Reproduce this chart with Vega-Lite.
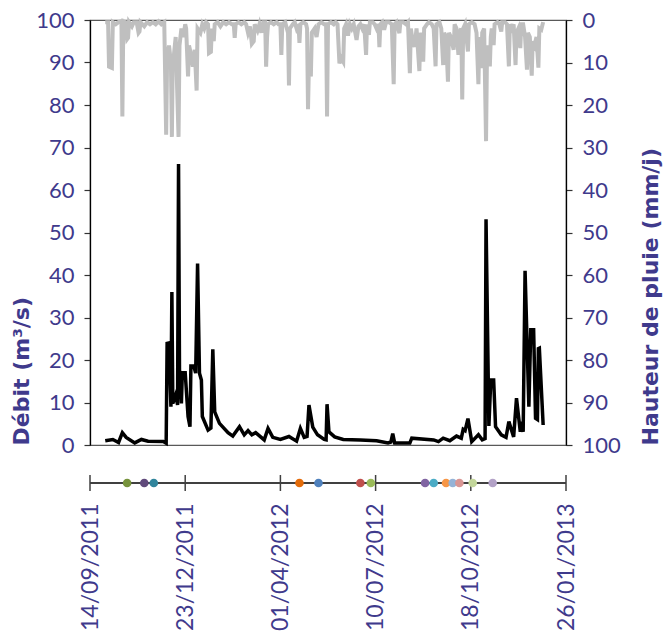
{
  "$schema": "https://vega.github.io/schema/vega-lite/v6.json",
  "padding": {"left": 10, "top": 8, "right": 4, "bottom": 4},
  "bounds": "flush",
  "spacing": 30,
  "config": {"font": "Lato", "view": {"stroke": null}},
  "datasets": {
    "rain": [
      {"d":"2011-09-30","r":0.5},{"d":"2011-10-03","r":0.5},{"d":"2011-10-04","r":11},{"d":"2011-10-07","r":11.3},{"d":"2011-10-08","r":0.5},
      {"d":"2011-10-11","r":1},{"d":"2011-10-14","r":0.5},{"d":"2011-10-17","r":0.3},{"d":"2011-10-18","r":22.7},{"d":"2011-10-19","r":0.3},
      {"d":"2011-10-21","r":0.5},{"d":"2011-10-23","r":4.5},{"d":"2011-10-24","r":4.2},{"d":"2011-10-25","r":0.5},{"d":"2011-10-28","r":1.5},
      {"d":"2011-10-30","r":0.5},{"d":"2011-11-02","r":0.5},{"d":"2011-11-04","r":3},{"d":"2011-11-05","r":2.7},{"d":"2011-11-06","r":0.5},
      {"d":"2011-11-10","r":1.5},{"d":"2011-11-13","r":0.5},{"d":"2011-11-16","r":1},{"d":"2011-11-19","r":0.5},{"d":"2011-11-22","r":1},
      {"d":"2011-11-25","r":0.3},{"d":"2011-11-28","r":1},{"d":"2011-12-01","r":0.5},{"d":"2011-12-03","r":27},{"d":"2011-12-04","r":9},
      {"d":"2011-12-06","r":6},{"d":"2011-12-08","r":10},{"d":"2011-12-09","r":27.5},{"d":"2011-12-10","r":8},{"d":"2011-12-11","r":8.6},
      {"d":"2011-12-13","r":4},{"d":"2011-12-14","r":12},{"d":"2011-12-16","r":27.5},{"d":"2011-12-17","r":6},{"d":"2011-12-19","r":2},
      {"d":"2011-12-21","r":4},{"d":"2011-12-23","r":1},{"d":"2011-12-24","r":2},{"d":"2011-12-26","r":13.3},{"d":"2011-12-27","r":6},
      {"d":"2011-12-29","r":8},{"d":"2011-12-31","r":11},{"d":"2012-01-02","r":7},{"d":"2012-01-04","r":16.6},{"d":"2012-01-05","r":2},
      {"d":"2012-01-08","r":3},{"d":"2012-01-10","r":1},{"d":"2012-01-12","r":2},{"d":"2012-01-14","r":0.5},{"d":"2012-01-16","r":1},
      {"d":"2012-01-17","r":7.8},{"d":"2012-01-19","r":7.5},{"d":"2012-01-20","r":2},{"d":"2012-01-22","r":5},{"d":"2012-01-23","r":1},
      {"d":"2012-01-26","r":0.5},{"d":"2012-01-29","r":1.5},{"d":"2012-02-01","r":0.5},{"d":"2012-02-04","r":1},{"d":"2012-02-07","r":0.5},
      {"d":"2012-02-10","r":1},{"d":"2012-02-12","r":1},{"d":"2012-02-13","r":4.2},{"d":"2012-02-14","r":1},{"d":"2012-02-17","r":0.5},
      {"d":"2012-02-20","r":1},{"d":"2012-02-23","r":0.5},{"d":"2012-02-25","r":1},{"d":"2012-02-27","r":3},{"d":"2012-02-29","r":1.5},
      {"d":"2012-03-02","r":5.6},{"d":"2012-03-04","r":5},{"d":"2012-03-05","r":1},{"d":"2012-03-08","r":2.5},{"d":"2012-03-10","r":1},
      {"d":"2012-03-12","r":3},{"d":"2012-03-14","r":0.5},{"d":"2012-03-16","r":0.5},{"d":"2012-03-17","r":11},{"d":"2012-03-18","r":4},
      {"d":"2012-03-19","r":1},{"d":"2012-03-22","r":0.5},{"d":"2012-03-25","r":1},{"d":"2012-03-28","r":0.5},{"d":"2012-03-30","r":1},
      {"d":"2012-04-01","r":1},{"d":"2012-04-02","r":8.2},{"d":"2012-04-03","r":1},{"d":"2012-04-06","r":0.5},{"d":"2012-04-09","r":3},
      {"d":"2012-04-10","r":15.4},{"d":"2012-04-11","r":2},{"d":"2012-04-14","r":1},{"d":"2012-04-16","r":0.5},{"d":"2012-04-18","r":2},
      {"d":"2012-04-20","r":1},{"d":"2012-04-21","r":5.4},{"d":"2012-04-22","r":1},{"d":"2012-04-25","r":0.5},{"d":"2012-04-28","r":1},
      {"d":"2012-04-29","r":2},{"d":"2012-04-30","r":21},{"d":"2012-05-01","r":10},{"d":"2012-05-03","r":13.3},{"d":"2012-05-04","r":3},
      {"d":"2012-05-07","r":2},{"d":"2012-05-09","r":4},{"d":"2012-05-11","r":1},{"d":"2012-05-14","r":0.5},{"d":"2012-05-17","r":1},
      {"d":"2012-05-19","r":1},{"d":"2012-05-20","r":22.7},{"d":"2012-05-21","r":1},{"d":"2012-05-24","r":0.5},{"d":"2012-05-27","r":1},
      {"d":"2012-05-29","r":0.5},{"d":"2012-05-31","r":1},{"d":"2012-06-02","r":10.2},{"d":"2012-06-04","r":9},{"d":"2012-06-06","r":9.8},
      {"d":"2012-06-07","r":2},{"d":"2012-06-09","r":1},{"d":"2012-06-11","r":3.7},{"d":"2012-06-13","r":1},{"d":"2012-06-15","r":2},
      {"d":"2012-06-17","r":1},{"d":"2012-06-20","r":4.7},{"d":"2012-06-22","r":1.5},{"d":"2012-06-24","r":1},{"d":"2012-06-26","r":2},
      {"d":"2012-06-28","r":1},{"d":"2012-06-30","r":8.2},{"d":"2012-07-01","r":1},{"d":"2012-07-03","r":3.5},{"d":"2012-07-04","r":0.5},
      {"d":"2012-07-07","r":0.5},{"d":"2012-07-09","r":1},{"d":"2012-07-11","r":2},{"d":"2012-07-13","r":1},{"d":"2012-07-14","r":6.4},
      {"d":"2012-07-15","r":1},{"d":"2012-07-17","r":0.5},{"d":"2012-07-19","r":2.3},{"d":"2012-07-21","r":0.5},{"d":"2012-07-24","r":0.5},
      {"d":"2012-07-27","r":1},{"d":"2012-07-29","r":15.1},{"d":"2012-07-30","r":1},{"d":"2012-08-01","r":0.5},{"d":"2012-08-04","r":3.1},
      {"d":"2012-08-05","r":0.5},{"d":"2012-08-08","r":0.5},{"d":"2012-08-11","r":1},{"d":"2012-08-13","r":0.5},{"d":"2012-08-15","r":12.5},
      {"d":"2012-08-16","r":2},{"d":"2012-08-18","r":5},{"d":"2012-08-20","r":6.3},{"d":"2012-08-22","r":2},{"d":"2012-08-25","r":12},
      {"d":"2012-08-26","r":3},{"d":"2012-08-27","r":4},{"d":"2012-08-29","r":9.8},{"d":"2012-08-30","r":2},{"d":"2012-09-02","r":1},
      {"d":"2012-09-04","r":0.5},{"d":"2012-09-07","r":1},{"d":"2012-09-09","r":2},{"d":"2012-09-11","r":10.9},{"d":"2012-09-12","r":1},
      {"d":"2012-09-15","r":0.5},{"d":"2012-09-17","r":2},{"d":"2012-09-19","r":10.6},{"d":"2012-09-20","r":3},{"d":"2012-09-22","r":4},
      {"d":"2012-09-24","r":14.5},{"d":"2012-09-25","r":3},{"d":"2012-09-27","r":4},{"d":"2012-09-30","r":7},{"d":"2012-10-01","r":1},
      {"d":"2012-10-03","r":2},{"d":"2012-10-05","r":8.2},{"d":"2012-10-06","r":3},{"d":"2012-10-08","r":2},{"d":"2012-10-09","r":18.7},
      {"d":"2012-10-10","r":2},{"d":"2012-10-12","r":1},{"d":"2012-10-15","r":7.4},{"d":"2012-10-16","r":1},{"d":"2012-10-19","r":0.5},
      {"d":"2012-10-22","r":1},{"d":"2012-10-24","r":3},{"d":"2012-10-26","r":15.1},{"d":"2012-10-27","r":4},{"d":"2012-10-29","r":11.3},
      {"d":"2012-10-30","r":3},{"d":"2012-11-01","r":2},{"d":"2012-11-03","r":28.5},{"d":"2012-11-04","r":8},{"d":"2012-11-05","r":6},
      {"d":"2012-11-07","r":10.9},{"d":"2012-11-08","r":4},{"d":"2012-11-09","r":2},{"d":"2012-11-11","r":5.9},{"d":"2012-11-12","r":1},
      {"d":"2012-11-15","r":0.5},{"d":"2012-11-17","r":1},{"d":"2012-11-19","r":2.7},{"d":"2012-11-20","r":0.5},{"d":"2012-11-23","r":0.5},
      {"d":"2012-11-25","r":1},{"d":"2012-11-27","r":10.9},{"d":"2012-11-28","r":1},{"d":"2012-11-30","r":2},{"d":"2012-12-02","r":1},
      {"d":"2012-12-04","r":10.6},{"d":"2012-12-05","r":3},{"d":"2012-12-07","r":2},{"d":"2012-12-09","r":6.6},{"d":"2012-12-10","r":1},
      {"d":"2012-12-12","r":1},{"d":"2012-12-14","r":4},{"d":"2012-12-16","r":11.7},{"d":"2012-12-17","r":3},{"d":"2012-12-19","r":4},
      {"d":"2012-12-21","r":13.1},{"d":"2012-12-22","r":5},{"d":"2012-12-24","r":6},{"d":"2012-12-26","r":4},{"d":"2012-12-28","r":11.2},
      {"d":"2012-12-29","r":2},{"d":"2012-12-31","r":2.3},{"d":"2013-01-02","r":0.5}
    ],
    "flow": [
      {"d":"2011-09-30","q":1.0},{"d":"2011-10-08","q":1.3},{"d":"2011-10-14","q":0.6},{"d":"2011-10-18","q":2.9},{"d":"2011-10-22","q":1.8},
      {"d":"2011-10-31","q":0.5},{"d":"2011-11-07","q":1.3},{"d":"2011-11-14","q":0.9},{"d":"2011-11-30","q":0.8},{"d":"2011-12-03","q":0.4},
      {"d":"2011-12-04","q":23.9},{"d":"2011-12-06","q":24},{"d":"2011-12-08","q":9},{"d":"2011-12-09","q":36},{"d":"2011-12-10","q":9.8},
      {"d":"2011-12-13","q":11.8},{"d":"2011-12-15","q":9.4},{"d":"2011-12-16","q":66.1},{"d":"2011-12-17","q":17.6},{"d":"2011-12-19","q":9.8},
      {"d":"2011-12-20","q":17},{"d":"2011-12-23","q":17},{"d":"2011-12-26","q":6.7},{"d":"2011-12-28","q":4.3},{"d":"2011-12-29","q":18.6},
      {"d":"2012-01-01","q":18.6},{"d":"2012-01-03","q":16.9},{"d":"2012-01-05","q":42.7},{"d":"2012-01-07","q":16.9},{"d":"2012-01-09","q":15.3},
      {"d":"2012-01-10","q":6.7},{"d":"2012-01-16","q":3.5},{"d":"2012-01-19","q":4},{"d":"2012-01-21","q":22.5},{"d":"2012-01-23","q":7.8},
      {"d":"2012-01-28","q":5.1},{"d":"2012-02-06","q":2.9},{"d":"2012-02-11","q":2.1},{"d":"2012-02-18","q":4.3},{"d":"2012-02-23","q":2.4},
      {"d":"2012-02-27","q":3.4},{"d":"2012-03-02","q":2.4},{"d":"2012-03-06","q":2.9},{"d":"2012-03-15","q":1.2},{"d":"2012-03-19","q":3.9},
      {"d":"2012-03-24","q":1.8},{"d":"2012-04-01","q":1.3},{"d":"2012-04-10","q":2.0},{"d":"2012-04-18","q":0.9},{"d":"2012-04-22","q":3.9},
      {"d":"2012-04-26","q":1.8},{"d":"2012-04-29","q":2.0},{"d":"2012-05-01","q":9.4},{"d":"2012-05-05","q":4.2},{"d":"2012-05-10","q":2.4},
      {"d":"2012-05-17","q":1.3},{"d":"2012-05-19","q":1.2},{"d":"2012-05-20","q":9.6},{"d":"2012-05-22","q":3.1},{"d":"2012-05-28","q":1.9},
      {"d":"2012-06-06","q":1.3},{"d":"2012-06-24","q":1.2},{"d":"2012-07-11","q":1.0},{"d":"2012-07-23","q":0.5},{"d":"2012-07-26","q":0.7},
      {"d":"2012-07-28","q":2.7},{"d":"2012-07-30","q":0.5},{"d":"2012-08-15","q":0.5},{"d":"2012-08-17","q":1.6},{"d":"2012-09-09","q":1.2},
      {"d":"2012-09-14","q":0.8},{"d":"2012-09-19","q":1.6},{"d":"2012-09-26","q":1.0},{"d":"2012-10-03","q":2.1},{"d":"2012-10-08","q":1.6},
      {"d":"2012-10-10","q":3.7},{"d":"2012-10-12","q":3.4},{"d":"2012-10-15","q":6.2},{"d":"2012-10-19","q":0.8},{"d":"2012-10-26","q":2.4},
      {"d":"2012-10-30","q":1.2},{"d":"2012-11-02","q":1.5},{"d":"2012-11-03","q":53.1},{"d":"2012-11-06","q":4.5},{"d":"2012-11-08","q":15.3},
      {"d":"2012-11-11","q":15.3},{"d":"2012-11-13","q":4.3},{"d":"2012-11-19","q":2.4},{"d":"2012-11-24","q":1.8},{"d":"2012-11-27","q":5.5},
      {"d":"2012-12-02","q":1.9},{"d":"2012-12-05","q":11},{"d":"2012-12-09","q":3.1},{"d":"2012-12-10","q":5.5},{"d":"2012-12-12","q":3.1},
      {"d":"2012-12-14","q":41},{"d":"2012-12-18","q":9},{"d":"2012-12-20","q":27.1},{"d":"2012-12-23","q":27.1},{"d":"2012-12-25","q":6.3},
      {"d":"2012-12-27","q":6.0},{"d":"2012-12-28","q":22.7},{"d":"2012-12-29","q":22.8},{"d":"2013-01-02","q":4.7}
    ],
    "events": [
      {"d":"2011-10-23","e":"E01"},{"d":"2011-11-10","e":"E02"},{"d":"2011-11-20","e":"E03"},{"d":"2012-04-21","e":"E04"},
      {"d":"2012-05-11","e":"E05"},{"d":"2012-06-24","e":"E06"},{"d":"2012-07-05","e":"E07"},{"d":"2012-08-31","e":"E08"},
      {"d":"2012-09-09","e":"E09"},{"d":"2012-09-22","e":"E10"},{"d":"2012-09-29","e":"E11"},{"d":"2012-10-06","e":"E12"},
      {"d":"2012-10-20","e":"E13"},{"d":"2012-11-10","e":"E14"}
    ],
    "marks": [
      {"d":"2011-09-14"},{"d":"2011-12-23"},{"d":"2012-04-01"},{"d":"2012-07-10"},{"d":"2012-10-18"},{"d":"2013-01-26"}
    ]
  },
  "vconcat": [
    {
      "width": 476,
      "height": 425,
      "view": {"stroke": "#595959", "strokeWidth": 1.2},
      "layer": [
        {
          "data": {"name": "rain"},
          "mark": {"type": "line", "color": "#bfbfbf", "strokeWidth": 4},
          "encoding": {
            "x": {"field": "d", "type": "temporal",
                  "scale": {"type": "utc", "domain": [{"year": 2011, "month": 9, "date": 14, "utc": true}, {"year": 2013, "month": 1, "date": 26, "utc": true}]},
                  "axis": null},
            "y": {"field": "r", "type": "quantitative",
                  "scale": {"domain": [100, 0], "nice": false, "zero": false},
                  "axis": {"orient": "right", "values": [0,10,20,30,40,50,60,70,80,90,100], "grid": false,
                           "domainColor": "#000000", "domainWidth": 1.3, "tickColor": "#333333", "tickSize": 6, "tickWidth": 1.2,
                           "labelFont": "Lato", "labelFontSize": 22, "labelColor": "#3f3a8c", "labelPadding": 10,
                           "title": "Hauteur de pluie (mm/j)", "titleFont": "DejaVu Sans", "titleFontSize": 22, "titleFontWeight": "bold",
                           "titleColor": "#3f3a8c", "titleAngle": 270, "titleBaseline": "top", "titleAnchor": "start", "titlePadding": 20}}
          }
        },
        {
          "data": {"name": "flow"},
          "mark": {"type": "line", "color": "#000000", "strokeWidth": 3.5},
          "encoding": {
            "x": {"field": "d", "type": "temporal",
                  "scale": {"type": "utc", "domain": [{"year": 2011, "month": 9, "date": 14, "utc": true}, {"year": 2013, "month": 1, "date": 26, "utc": true}]},
                  "axis": null},
            "y": {"field": "q", "type": "quantitative",
                  "scale": {"domain": [0, 100], "nice": false},
                  "axis": {"orient": "left", "values": [0,10,20,30,40,50,60,70,80,90,100], "grid": false,
                           "domainColor": "#000000", "domainWidth": 1.3, "tickColor": "#333333", "tickSize": 6, "tickWidth": 1.2,
                           "labelFont": "Lato", "labelFontSize": 22, "labelColor": "#3f3a8c", "labelPadding": 10,
                           "title": "Débit (m³/s)", "titleFont": "DejaVu Sans", "titleFontSize": 22, "titleFontWeight": "bold",
                           "titleColor": "#3f3a8c", "titleAnchor": "start", "titlePadding": 2}}
          }
        }
      ],
      "resolve": {"scale": {"y": "independent"}, "axis": {"y": "independent"}}
    },
    {
      "width": 476,
      "height": 16,
      "layer": [
        {
          "data": {"name": "marks"},
          "mark": {"type": "rule", "color": "#404040", "strokeWidth": 1.4},
          "encoding": {
            "y": {"datum": 0, "type": "quantitative", "scale": {"domain": [-1, 1]}, "axis": null}
          }
        },
        {
          "data": {"name": "marks"},
          "mark": {"type": "rule", "color": "#404040", "strokeWidth": 1.5},
          "encoding": {
            "x": {"field": "d", "type": "temporal",
                  "scale": {"type": "utc", "domain": [{"year": 2011, "month": 9, "date": 14, "utc": true}, {"year": 2013, "month": 1, "date": 26, "utc": true}]},
                  "axis": {"orient": "bottom", "domain": false, "ticks": false, "grid": false,
                           "values": [{"year": 2011, "month": 9, "date": 14, "utc": true}, {"year": 2011, "month": 12, "date": 23, "utc": true},
                                      {"year": 2012, "month": 4, "date": 1, "utc": true}, {"year": 2012, "month": 7, "date": 10, "utc": true},
                                      {"year": 2012, "month": 10, "date": 18, "utc": true}, {"year": 2013, "month": 1, "date": 26, "utc": true}],
                           "labelExpr": "utcFormat(datum.value, '%d/%m/%Y')",
                           "labelAngle": 270, "labelFont": "Lato", "labelFontSize": 23, "labelColor": "#3f3a8c",
                           "labelPadding": 12, "labelOverlap": false, "labelBound": false, "labelFlush": false, "title": null}}
          }
        },
        {
          "data": {"name": "events"},
          "mark": {"type": "circle", "size": 75, "opacity": 1},
          "encoding": {
            "x": {"field": "d", "type": "temporal"},
            "y": {"datum": 0, "type": "quantitative"},
            "color": {"field": "e", "type": "nominal", "legend": null,
                      "scale": {"domain": ["E01","E02","E03","E04","E05","E06","E07","E08","E09","E10","E11","E12","E13","E14"],
                                "range": ["#77933c","#604a7b","#31859c","#e46c0a","#4f81bd","#c0504d","#9bbb59","#8064a2","#4bacc6","#f79646","#95b3d7","#d99694","#c3d69b","#b3a2c7"]}}
          }
        }
      ]
    }
  ]
}
